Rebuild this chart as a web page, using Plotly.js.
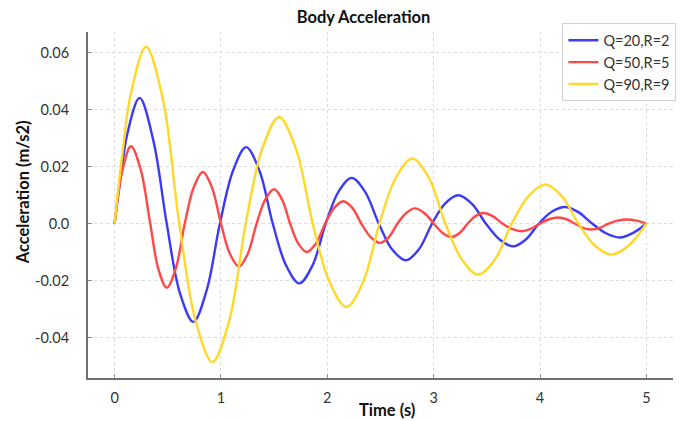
<!DOCTYPE html>
<html>
<head>
<meta charset="utf-8">
<script src="https://cdn.plot.ly/plotly-3.0.1.min.js"></script>
<style>
  html, body { margin: 0; padding: 0; background: #ffffff; }
  #chart { width: 695px; height: 421px; }
</style>
</head>
<body>
<div id="chart"></div>
<script>
// Series names
const seriesNames = ['Q=20,R=2', 'Q=50,R=5', 'Q=90,R=9'];

// Q=20,R=2 (blue): time (s) and acceleration (m/s2)
const timeQ20 = [0, 0.06, 0.12, 0.235, 0.365, 0.49, 0.615, 0.74, 0.865, 0.99, 1.115, 1.237, 1.362, 1.487, 1.612, 1.737, 1.862, 1.985, 2.107, 2.229, 2.354, 2.484, 2.61, 2.739, 2.862, 2.985, 3.107, 3.23, 3.36, 3.49, 3.62, 3.747, 3.867, 3.99, 4.11, 4.232, 4.36, 4.49, 4.62, 4.75, 4.88, 5.0];
const accQ20  = [0, 0.017, 0.0315, 0.0441, 0.029, 0, -0.0245, -0.0345, -0.0235, 0, 0.0187, 0.0268, 0.0185, 0, -0.0147, -0.021, -0.0146, 0, 0.0113, 0.016, 0.0112, 0, -0.0091, -0.0129, -0.009, 0, 0.007, 0.0099, 0.0069, 0, -0.0056, -0.008, -0.0056, 0, 0.0041, 0.0058, 0.004, 0, -0.0034, -0.0049, -0.0032, 0];

// Q=50,R=5 (red)
const timeQ50 = [0, 0.077, 0.154, 0.245, 0.335, 0.412, 0.49, 0.575, 0.66, 0.745, 0.83, 0.915, 1.0, 1.085, 1.17, 1.252, 1.335, 1.418, 1.5, 1.575, 1.65, 1.728, 1.806, 1.893, 1.98, 2.065, 2.15, 2.235, 2.32, 2.408, 2.495, 2.578, 2.66, 2.742, 2.823, 2.912, 3.0, 3.084, 3.168, 3.244, 3.32, 3.392, 3.465, 3.555, 3.645, 3.735, 3.825, 3.912, 4.0, 4.085, 4.17, 4.248, 4.325, 4.402, 4.48, 4.562, 4.645, 4.728, 4.81, 4.905, 5.0];
const accQ50  = [0, 0.0192, 0.0271, 0.019, 0, -0.016, -0.0225, -0.0158, 0, 0.0128, 0.0181, 0.0127, 0, -0.0107, -0.0151, -0.0106, 0, 0.0085, 0.012, 0.0084, 0, -0.0071, -0.01, -0.007, 0, 0.0055, 0.0078, 0.0055, 0, -0.0048, -0.0068, -0.0048, 0, 0.0037, 0.0053, 0.0037, 0, -0.0033, -0.0047, -0.0033, 0, 0.0026, 0.0037, 0.0026, 0, -0.0019, -0.0027, -0.0019, 0, 0.0015, 0.0021, 0.0015, 0, -0.0015, -0.0021, -0.0015, 0, 0.001, 0.0014, 0.001, 0];

// Q=90,R=9 (yellow)
const timeQ90 = [0, 0.075, 0.15, 0.295, 0.452, 0.608, 0.764, 0.92, 1.076, 1.233, 1.39, 1.546, 1.705, 1.863, 2.022, 2.18, 2.335, 2.49, 2.645, 2.8, 2.955, 3.11, 3.264, 3.418, 3.576, 3.734, 3.892, 4.05, 4.205, 4.36, 4.515, 4.67, 4.835, 5.0];
const accQ90  = [0, 0.025, 0.045, 0.062, 0.044, 0, -0.0345, -0.0486, -0.0343, 0, 0.0265, 0.0374, 0.0262, 0, -0.0206, -0.0293, -0.0206, 0, 0.0161, 0.0228, 0.016, 0, -0.0126, -0.0179, -0.0126, 0, 0.0096, 0.0137, 0.0096, 0, -0.0077, -0.0109, -0.0077, 0];

// Axis ticks
const xTickVals = [0, 1, 2, 3, 4, 5];
const xTickText = ['0', '1', '2', '3', '4', '5'];
const yTickVals = [-0.04, -0.02, 0, 0.02, 0.04, 0.06];
const yTickText = ['-0.04', '-0.02', '0.0', '0.02', '0.04', '0.06'];

const colors = ['#3b3bf7', '#ff4848', '#ffd82a'];
const FONT = 'Lato, "Open Sans", sans-serif';

const mk = (x, y, i) => ({
  x: x, y: y, name: seriesNames[i], type: 'scatter', mode: 'lines',
  line: { color: colors[i], width: 2.4, shape: 'spline', smoothing: 1.0 }
});

const data = [mk(timeQ20, accQ20, 0), mk(timeQ50, accQ50, 1), mk(timeQ90, accQ90, 2)];

const layout = {
  width: 695, height: 421,
  margin: { l: 88, r: 22, t: 32, b: 43 },
  paper_bgcolor: '#ffffff', plot_bgcolor: '#ffffff',
  font: { family: FONT, color: '#333333', size: 14 },
  title: { text: '<b>Body Acceleration</b>', x: 0.523, xanchor: 'center', y: 0.96, yanchor: 'middle',
           font: { family: FONT, size: 16.5, color: '#111111' } },
  xaxis: {
    range: [-0.25, 5.25], tickmode: 'array', tickvals: xTickVals, ticktext: xTickText,
    showline: true, linecolor: '#707070', linewidth: 2, mirror: false,
    ticks: 'inside', ticklen: 4, tickcolor: '#909090', tickwidth: 1,
    showgrid: true, gridcolor: '#dcdcdc', griddash: 'dot', gridwidth: 1,
    zeroline: false, ticklabelstandoff: 6,
    tickfont: { family: FONT, size: 14.5, color: '#333333' }
  },
  yaxis: {
    range: [-0.0542, 0.0672], tickmode: 'array', tickvals: yTickVals, ticktext: yTickText,
    showline: true, linecolor: '#707070', linewidth: 2, mirror: false,
    ticks: 'inside', ticklen: 4, tickcolor: '#909090', tickwidth: 1,
    showgrid: true, gridcolor: '#dcdcdc', griddash: 'dot', gridwidth: 1,
    zeroline: false, ticklabelstandoff: 14,
    tickfont: { family: FONT, size: 14.5, color: '#333333' }
  },
  annotations: [
    { text: '<b>Time (s)</b>', xref: 'paper', yref: 'paper', x: 0.511, y: -0.0925,
      xanchor: 'center', yanchor: 'middle', showarrow: false,
      font: { family: FONT, size: 16.5, color: '#111111' } },
    { text: '<b>Acceleration (m/s2)</b>', xref: 'paper', yref: 'paper', x: -0.112, y: 0.538,
      xanchor: 'center', yanchor: 'middle', textangle: -90, showarrow: false,
      font: { family: FONT, size: 16.5, color: '#111111' } }
  ],
  showlegend: true,
  legend: {
    x: 0.811, xanchor: 'left', y: 1.025, yanchor: 'top',
    bgcolor: '#ffffff', bordercolor: '#d0d0d0', borderwidth: 1,
    font: { family: FONT, size: 14.5, color: '#333333' },
    tracegroupgap: 0
  }
};

Plotly.newPlot('chart', data, layout, { displayModeBar: false, staticPlot: true });
</script>
</body>
</html>
